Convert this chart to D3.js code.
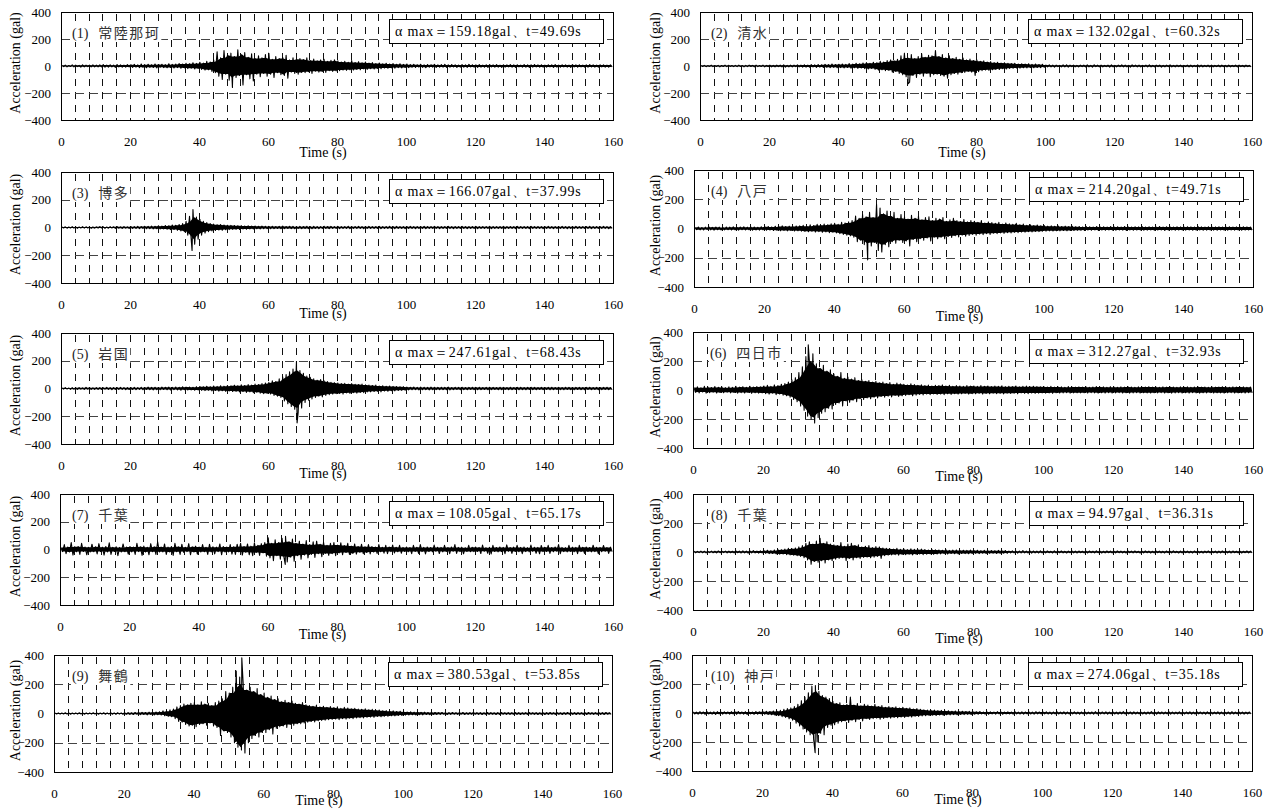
<!DOCTYPE html>
<html><head><meta charset="utf-8">
<script src="https://cdn.jsdelivr.net/npm/d3@7"></script>
<style>
body{margin:0;background:#fff;}
svg{display:block;}
</style></head><body>
<svg id="chart" width="1272" height="809"></svg>
<script>
// Station names, peak accelerations (gal, signed) and the time of each peak (s)
const stations = ["常陸那珂","清水","博多","八戸","岩国","四日市","千葉","千葉","舞鶴","神戸"];
const peakAcc  = [-159.18, -132.02, -166.07, -214.20, -247.61, 312.27, -108.05, 94.97, 380.53, -274.06];
const peakTime = [49.69, 60.32, 37.99, 49.71, 68.43, 32.93, 65.17, 36.31, 53.85, 35.18];
const timeTicks = [0,20,40,60,80,100,120,140,160];
const accTicks = [-400,-200,0,200,400];

// Per-second positive and negative excursions of each record (gal), 0–159 s
const hi1 = [5,7,4,8,6,5,9,6,7,8, 6,8,10,7,9,6,11,8,7,10, 9,12,8,14,10,13,9,15,11,13, 10,16,12,14,18,15,20,17,24,19,
 28,22,35,30,45,105,60,115,80,95, 70,120,85,100,65,90,55,75,60,85, 95,50,70,55,65,80,45,60,50,55, 48,60,40,52,38,45,50,35,42,46,
 38,30,35,28,40,26,32,24,30,22, 25,18,22,16,20,15,18,13,16,12, 14,10,12,9,13,8,11,9,12,8, 10,12,8,11,9,7,10,8,12,9,
 8,10,7,9,11,8,10,7,9,8, 10,8,9,7,10,8,9,11,8,9, 7,9,8,10,7,9,8,7,10,8, 9,7,8,10,8,7,9,8,7,8];
const lo1 = [-5,-6,-4,-7,-5,-8,-6,-5,-7,-6, -7,-6,-9,-8,-6,-10,-7,-9,-8,-7, -10,-8,-12,-9,-13,-10,-11,-14,-9,-12, -13,-11,-15,-12,-17,-14,-19,-16,-22,-18,
 -25,-30,-28,-40,-50,-75,-100,-60,-105,-90, -85,-70,-140,-65,-95,-110,-60,-80,-55,-75, -60,-85,-50,-65,-70,-90,-45,-55,-60,-48, -50,-42,-55,-38,-45,-40,-48,-35,-40,-36,
 -35,-30,-32,-28,-30,-25,-28,-22,-25,-20, -22,-18,-20,-15,-17,-14,-16,-12,-14,-11, -12,-9,-11,-8,-10,-12,-9,-8,-11,-9, -8,-10,-9,-7,-11,-8,-9,-10,-7,-9,
 -10,-8,-9,-11,-7,-9,-8,-10,-8,-7, -9,-10,-7,-8,-9,-11,-8,-7,-9,-8, -8,-7,-10,-8,-9,-7,-8,-10,-7,-9, -7,-8,-9,-7,-8,-9,-7,-8,-9,-7];

const hi2 = [4,5,3,6,4,5,4,6,5,4, 5,6,4,5,7,5,6,4,6,5, 6,5,7,6,8,5,7,6,8,7, 9,7,10,8,11,9,12,10,14,11,
 13,15,12,18,14,20,16,22,25,20, 28,24,35,30,40,45,38,50,75,95, 60,85,55,70,90,65,80,75,115,70, 85,60,75,55,65,50,58,45,52,40,
 45,35,38,30,32,25,28,22,24,20, 18,20,15,17,14,16,12,14,11,13, 7,8,6,7,5,8,9,6,7,5, 6,7,8,5,9,6,7,5,6,8,
 5,7,9,6,5,8,6,7,5,6, 8,5,6,7,5,6,8,5,7,6, 5,6,7,5,8,6,5,7,6,5, 6,7,5,6,5,7,6,5,6,5];
const lo2 = [-4,-5,-3,-5,-4,-6,-4,-5,-3,-5, -5,-4,-6,-5,-4,-6,-5,-4,-6,-5, -6,-7,-5,-6,-8,-6,-7,-5,-7,-8, -8,-9,-7,-10,-8,-11,-9,-12,-10,-13,
 -12,-14,-11,-16,-13,-18,-15,-20,-22,-18, -25,-30,-28,-35,-32,-45,-40,-55,-65,-80, -120,-70,-85,-60,-75,-55,-80,-65,-60,-70, -75,-90,-65,-55,-60,-50,-48,-40,-45,-70,
 -42,-35,-30,-32,-28,-25,-26,-20,-22,-18, -17,-15,-16,-13,-14,-12,-13,-11,-12,-10, -7,-6,-8,-5,-7,-6,-8,-5,-6,-7, -5,-7,-6,-8,-5,-6,-7,-5,-8,-6,
 -6,-5,-7,-6,-8,-5,-6,-7,-5,-6, -7,-6,-5,-8,-6,-5,-7,-6,-5,-7, -5,-7,-6,-5,-6,-7,-5,-6,-7,-5, -6,-5,-7,-6,-5,-6,-5,-7,-5,-6];

const hi3 = [4,5,4,6,5,4,6,5,4,5, 5,6,5,4,6,5,7,5,6,5, 7,6,8,7,9,8,10,9,12,10, 14,12,18,16,22,28,45,80,130,75,
 60,45,35,28,25,20,22,18,16,15, 14,12,13,11,12,10,11,9,10,9, 8,9,7,8,10,7,9,8,6,8, 7,9,6,8,7,6,9,7,8,6,
 8,6,7,9,6,7,8,6,7,8, 6,7,8,6,7,9,6,8,7,6, 7,8,6,7,6,8,7,6,8,7, 6,7,8,6,7,6,8,7,6,7,
 8,6,7,6,8,7,6,7,8,6, 7,6,8,7,6,7,8,6,7,6, 6,8,7,6,7,8,6,7,6,8, 7,6,7,8,6,7,6,8,7,6];
const lo3 = [-4,-5,-4,-5,-6,-4,-5,-4,-6,-5, -5,-4,-6,-5,-4,-6,-5,-7,-5,-6, -6,-7,-8,-6,-9,-8,-10,-9,-11,-10, -12,-15,-14,-20,-25,-30,-55,-90,-120,-85,
 -55,-40,-30,-25,-22,-18,-20,-16,-15,-13, -12,-14,-11,-12,-10,-11,-9,-10,-9,-8, -9,-8,-7,-9,-8,-7,-8,-9,-7,-8, -7,-8,-9,-7,-8,-6,-7,-8,-7,-6,
 -8,-7,-6,-8,-7,-6,-7,-8,-6,-7, -7,-6,-8,-7,-6,-7,-8,-6,-7,-8, -6,-7,-8,-6,-7,-8,-6,-7,-6,-8, -7,-6,-7,-8,-6,-7,-6,-8,-7,-6,
 -8,-7,-6,-7,-8,-6,-7,-6,-8,-7, -6,-8,-7,-6,-7,-8,-6,-7,-6,-8, -7,-6,-8,-7,-6,-7,-8,-6,-7,-6, -6,-7,-6,-8,-7,-6,-7,-6,-8,-7];

const hi4 = [8,10,7,9,11,8,10,9,7,10, 9,11,8,10,12,9,11,10,8,12, 12,14,11,15,13,18,14,16,13,17, 18,22,16,25,20,28,22,30,25,32,
 35,28,42,38,45,55,85,70,95,80, 110,75,165,140,100,120,85,110,70,95, 80,65,90,70,85,60,75,80,55,70, 65,75,50,60,70,55,48,62,45,55,
 50,42,55,38,45,40,35,42,30,38, 32,28,35,25,30,22,26,20,24,18, 20,16,18,15,17,14,16,13,15,12, 14,11,13,12,10,13,11,12,10,14,
 11,12,10,13,11,10,12,11,13,10, 12,10,11,13,10,12,11,10,12,11, 10,12,11,10,13,11,10,12,10,11, 12,10,11,12,10,11,10,12,11,10];
const lo4 = [-8,-9,-10,-7,-9,-11,-8,-10,-9,-8, -10,-9,-11,-8,-10,-9,-12,-10,-11,-9, -12,-11,-14,-12,-15,-13,-16,-14,-17,-15, -18,-20,-22,-19,-24,-21,-26,-23,-28,-25,
 -30,-35,-40,-45,-50,-60,-90,-80,-110,-100, -120,-95,-150,-160,-110,-125,-90,-100,-80,-95, -85,-120,-75,-90,-70,-80,-65,-85,-60,-70, -60,-70,-55,-62,-50,-58,-45,-52,-48,-40,
 -45,-38,-42,-35,-40,-32,-36,-30,-33,-28, -30,-26,-28,-24,-25,-22,-23,-20,-21,-18, -18,-16,-17,-15,-16,-14,-15,-13,-14,-12, -12,-13,-11,-12,-10,-13,-11,-12,-10,-11,
 -12,-10,-11,-13,-10,-12,-11,-10,-12,-11, -10,-12,-11,-10,-13,-11,-10,-12,-11,-10, -11,-10,-12,-11,-10,-12,-11,-10,-11,-12, -10,-11,-12,-10,-11,-10,-12,-11,-10,-11];

const hi5 = [5,6,4,7,5,6,5,8,6,5, 6,7,5,8,6,7,6,8,7,6, 7,8,6,9,7,10,8,9,7,10, 9,10,8,11,9,12,10,11,9,13,
 14,12,16,13,18,15,20,17,22,19, 24,20,26,22,28,25,32,28,35,40, 45,55,50,70,85,100,120,140,195,130, 110,90,80,70,60,65,55,50,45,42,
 40,35,38,32,35,30,28,32,26,25, 22,25,18,20,16,18,15,14,12,13, 10,9,11,8,10,9,8,10,9,8, 9,8,10,7,9,8,9,7,8,9,
 8,9,7,8,9,8,7,9,8,7, 9,7,8,9,7,8,9,8,7,8, 7,8,9,7,8,7,9,8,7,8, 8,7,8,9,7,8,7,8,9,7];
const lo5 = [-5,-4,-6,-5,-7,-5,-6,-5,-7,-6, -6,-7,-5,-6,-8,-6,-7,-6,-8,-7, -7,-8,-6,-9,-7,-8,-10,-8,-9,-7, -9,-11,-8,-10,-12,-9,-11,-10,-12,-11,
 -13,-15,-12,-17,-14,-19,-16,-21,-18,-22, -20,-25,-22,-28,-24,-30,-27,-34,-38,-35, -40,-50,-55,-65,-90,-110,-130,-150,-170,-140, -100,-85,-75,-65,-55,-60,-50,-45,-40,-38,
 -36,-40,-32,-35,-30,-33,-28,-30,-25,-24, -22,-20,-24,-18,-20,-16,-17,-14,-13,-12, -10,-9,-8,-10,-9,-8,-10,-9,-8,-9, -8,-9,-10,-8,-7,-9,-8,-9,-7,-8,
 -9,-8,-7,-9,-8,-7,-9,-8,-7,-9, -8,-7,-9,-8,-9,-7,-8,-9,-7,-8, -7,-9,-8,-7,-8,-9,-7,-8,-9,-7, -8,-9,-7,-8,-7,-9,-8,-7,-8,-9];

const hi6 = [18,22,15,25,20,17,24,19,21,16, 22,18,25,20,23,19,26,21,24,22, 28,32,25,35,30,40,45,55,70,85, 120,160,230,200,250,180,150,170,130,140,
 110,95,120,80,90,75,85,65,70,60, 65,55,60,50,55,45,52,40,48,42, 40,35,42,38,32,36,30,34,28,32, 30,35,28,32,26,30,28,25,30,27,
 28,25,30,26,28,24,27,25,29,23, 26,24,28,22,25,27,23,26,24,22, 24,21,25,20,23,22,19,24,21,20, 22,20,23,19,21,24,20,22,19,23,
 21,19,22,20,24,21,19,22,20,21, 23,20,21,19,22,20,23,21,19,22, 20,22,19,21,23,20,21,19,22,20, 21,23,20,19,22,21,20,22,19,21];
const lo6 = [-16,-20,-14,-22,-18,-15,-21,-17,-19,-15, -20,-17,-22,-18,-21,-17,-23,-19,-22,-20, -25,-28,-22,-32,-28,-36,-40,-50,-65,-80, -110,-140,-180,-200,-228,-190,-160,-150,-125,-130,
 -100,-90,-110,-75,-85,-70,-80,-60,-65,-55, -60,-50,-55,-45,-50,-42,-48,-38,-44,-40, -38,-33,-40,-35,-30,-34,-28,-32,-27,-30, -28,-32,-26,-30,-25,-28,-26,-24,-28,-25,
 -26,-23,-28,-24,-26,-22,-25,-23,-27,-22, -24,-22,-26,-20,-23,-25,-21,-24,-22,-20, -22,-20,-23,-19,-21,-20,-18,-22,-20,-19, -20,-19,-21,-18,-20,-22,-19,-21,-18,-21,
 -20,-18,-21,-19,-22,-20,-18,-21,-19,-20, -21,-19,-20,-18,-21,-19,-22,-20,-18,-21, -19,-21,-18,-20,-22,-19,-20,-18,-21,-19, -20,-22,-19,-18,-21,-20,-19,-21,-18,-20];

const hi7 = [15,35,18,50,20,22,45,18,16,38, 20,42,17,22,48,16,20,15,40,18, 22,18,45,20,25,16,42,20,55,18, 40,17,22,45,19,38,16,42,20,24,
 18,35,16,38,20,17,40,22,18,35, 20,38,45,22,40,24,48,30,42,50, 85,45,70,50,80,95,55,75,45,60, 40,65,35,55,60,38,52,30,45,50,
 32,48,28,45,25,40,22,38,20,35, 22,18,35,16,30,18,32,16,30,15, 18,14,30,16,35,15,18,14,32,16, 15,30,14,18,35,15,17,13,30,16,
 18,15,32,13,16,30,14,18,15,33, 14,17,30,15,18,13,32,16,15,29, 16,30,14,18,35,15,13,30,17,15, 30,16,18,14,31,16,15,29,14,17];
const lo7 = [-15,-30,-18,-40,-16,-35,-14,-38,-18,-16, -32,-15,-40,-17,-35,-14,-45,-18,-16,-33, -17,-35,-15,-42,-18,-38,-16,-35,-18,-17, -35,-18,-42,-16,-36,-20,-15,-38,-18,-34,
 -18,-16,-35,-17,-32,-15,-38,-18,-17,-33, -35,-18,-40,-20,-38,-45,-22,-42,-25,-48, -60,-80,-45,-70,-50,-90,-55,-85,-45,-70, -40,-60,-35,-58,-30,-52,-28,-42,-30,-45,
 -25,-38,-22,-35,-28,-33,-20,-30,-22,-32, -18,-28,-16,-26,-30,-15,-25,-16,-27,-14, -16,-30,-14,-28,-15,-32,-14,-17,-13,-29, -17,-14,-30,-13,-28,-15,-31,-14,-16,-15,
 -14,-29,-13,-27,-32,-14,-17,-15,-30,-13, -28,-14,-16,-30,-15,-17,-13,-27,-31,-15, -14,-28,-16,-13,-30,-15,-17,-14,-16,-30, -15,-28,-14,-17,-15,-30,-16,-13,-28,-15];

const hi8 = [5,4,6,5,4,6,5,7,5,6, 6,5,7,6,8,6,7,9,7,8, 10,12,9,14,18,15,20,25,22,28, 35,45,60,70,55,75,80,60,70,55,
 50,45,65,40,55,60,45,50,35,40, 45,30,38,35,28,25,22,20,25,18, 20,16,22,18,15,20,17,14,18,15, 14,12,15,11,13,14,10,12,11,13,
 10,12,9,11,8,10,9,11,8,10, 7,8,6,7,9,6,8,7,6,8, 6,7,5,8,6,7,5,6,8,6, 7,5,6,7,5,8,6,5,7,6,
 5,7,6,5,8,6,7,5,6,7, 6,5,7,6,5,7,6,8,5,6, 7,6,5,7,6,5,6,7,5,6, 6,7,5,6,7,5,6,5,7,6];
const lo8 = [-5,-4,-5,-6,-4,-5,-6,-5,-4,-6, -5,-6,-5,-7,-6,-8,-6,-7,-8,-7, -9,-11,-10,-13,-15,-14,-18,-20,-22,-25, -30,-40,-55,-85,-65,-70,-60,-75,-55,-60,
 -50,-45,-40,-60,-45,-55,-40,-45,-38,-35, -40,-35,-30,-45,-25,-22,-20,-18,-22,-16, -18,-15,-20,-16,-14,-18,-15,-13,-16,-14, -13,-11,-14,-10,-12,-13,-10,-11,-12,-10,
 -9,-11,-8,-10,-9,-8,-10,-9,-8,-9, -7,-6,-8,-7,-6,-7,-8,-6,-7,-6, -6,-5,-7,-6,-5,-6,-7,-5,-6,-7, -5,-6,-7,-5,-6,-5,-7,-6,-5,-6,
 -6,-5,-6,-7,-5,-6,-5,-7,-6,-5, -7,-6,-5,-6,-7,-5,-6,-5,-7,-6, -5,-6,-7,-5,-6,-7,-5,-6,-5,-7, -6,-5,-6,-7,-5,-6,-7,-5,-6,-5];

const hi9 = [3,4,3,5,4,3,4,5,3,4, 4,5,4,3,5,4,6,4,5,4, 5,6,5,7,6,8,7,9,8,10, 12,18,15,25,30,45,55,65,60,70,
 75,60,80,65,70,55,75,85,100,150, 140,180,290,250,200,160,180,150,170,130, 140,110,120,95,100,80,90,75,85,70, 65,75,60,55,50,58,45,50,42,48,
 40,45,35,42,38,32,35,30,28,32, 25,28,22,24,18,20,16,18,14,15, 12,10,11,9,10,8,9,7,8,7, 6,7,5,6,7,5,6,7,5,6,
 7,5,6,5,7,6,5,6,7,5, 6,5,7,6,5,6,7,5,6,5, 5,6,7,5,6,5,6,7,5,6, 6,5,6,7,5,6,5,6,7,5];
const lo9 = [-3,-4,-3,-4,-5,-3,-4,-3,-5,-4, -4,-3,-5,-4,-5,-4,-5,-6,-4,-5, -5,-6,-7,-5,-8,-6,-9,-7,-10,-8, -10,-15,-20,-22,-35,-55,-60,-75,-85,-80,
 -90,-75,-70,-80,-65,-85,-95,-150,-120,-130, -160,-200,-230,-250,-270,-200,-170,-150,-160,-130, -130,-110,-140,-100,-90,-85,-95,-75,-80,-70, -70,-65,-60,-55,-58,-50,-48,-45,-42,-40,
 -38,-42,-35,-38,-32,-35,-30,-28,-30,-26, -24,-26,-20,-22,-18,-19,-15,-16,-13,-14, -11,-10,-9,-10,-8,-9,-7,-8,-7,-6, -6,-5,-7,-6,-5,-6,-5,-7,-6,-5,
 -5,-6,-7,-5,-6,-5,-7,-6,-5,-6, -6,-5,-6,-7,-5,-6,-5,-6,-7,-5, -7,-6,-5,-6,-5,-7,-6,-5,-6,-7, -5,-6,-7,-5,-6,-5,-6,-7,-5,-6];

const hi10 = [8,6,9,7,10,6,8,9,7,8, 7,9,8,10,7,9,8,7,10,8, 9,11,10,14,12,18,25,30,35,45, 60,85,110,140,185,190,150,120,110,100,
 80,65,70,55,60,110,55,65,50,60, 55,48,60,45,52,40,45,38,42,35, 40,32,35,28,30,25,22,20,18,20, 16,18,14,15,12,14,11,12,10,11,
 9,8,10,7,9,8,7,9,8,7, 8,7,9,6,8,7,8,6,9,7, 7,8,6,7,9,6,8,7,6,8, 6,7,8,6,7,9,6,7,8,6,
 8,6,7,9,6,7,8,6,7,6, 7,9,6,8,7,6,9,7,6,8, 6,7,8,6,9,7,6,8,7,6, 8,7,6,7,9,6,8,7,6,7];
const lo10 = [-7,-8,-6,-9,-7,-8,-10,-7,-8,-6, -8,-7,-9,-6,-8,-10,-7,-9,-8,-7, -8,-10,-12,-15,-18,-25,-30,-40,-50,-70, -90,-110,-130,-150,-180,-200,-140,-150,-100,-85,
 -80,-70,-60,-55,-65,-50,-60,-45,-55,-40, -45,-40,-35,-42,-38,-32,-35,-30,-33,-28, -30,-25,-28,-22,-24,-20,-18,-16,-15,-17, -14,-15,-12,-13,-11,-12,-10,-11,-9,-10,
 -8,-9,-7,-8,-9,-7,-8,-6,-9,-7, -7,-8,-6,-7,-8,-6,-7,-8,-6,-7, -6,-7,-8,-6,-7,-6,-8,-7,-6,-7, -8,-6,-7,-6,-8,-7,-6,-7,-8,-6,
 -7,-8,-6,-7,-6,-8,-7,-6,-7,-8, -6,-7,-8,-6,-7,-6,-8,-7,-6,-7, -7,-6,-8,-7,-6,-7,-8,-6,-7,-6, -8,-7,-6,-8,-7,-6,-7,-8,-6,-7];

const highs = [hi1,hi2,hi3,hi4,hi5,hi6,hi7,hi8,hi9,hi10];
const lows  = [lo1,lo2,lo3,lo4,lo5,lo6,lo7,lo8,lo9,lo10];

// Page layout of the ten plot frames (pixels)
const frames = [
  {x0:61,  x1:613,  y0:12,  y1:120, lab:11, ylab:15,  tl:37},
  {x0:700, x1:1252, y0:12,  y1:120, lab:11, ylab:655, tl:37},
  {x0:61,  x1:613,  y0:172, y1:283, lab:11, ylab:15,  tl:35},
  {x0:694, x1:1253, y0:170, y1:287, lab:17, ylab:655, tl:34},
  {x0:61,  x1:613,  y0:333, y1:444, lab:11, ylab:15,  tl:34},
  {x0:693, x1:1253, y0:332, y1:448, lab:17, ylab:655, tl:33},
  {x0:60,  x1:613,  y0:494, y1:605, lab:12, ylab:15,  tl:34},
  {x0:693, x1:1253, y0:494, y1:610, lab:18, ylab:655, tl:33},
  {x0:54,  x1:612,  y0:655, y1:772, lab:18, ylab:15,  tl:33},
  {x0:692, x1:1252, y0:655, y1:771, lab:19, ylab:655, tl:33}
];

const serif = "'Liberation Serif','Times New Roman',serif";
const cjk = "'Noto Sans CJK JP','Noto Sans CJK SC',sans-serif";
const svg = d3.select("#chart");
const defs = svg.append("defs");

frames.forEach((f, k) => {
  const x = d3.scaleLinear().domain([0, 160]).range([f.x0, f.x1]);
  const y = d3.scaleLinear().domain([-400, 400]).range([f.y1, f.y0]);
  const g = svg.append("g").attr("class", "panel");
  const hi = highs[k], lo = lows[k];

  defs.append("clipPath").attr("id", "clip" + k)
    .append("rect").attr("x", f.x0).attr("y", f.y0)
    .attr("width", f.x1 - f.x0).attr("height", f.y1 - f.y0);

  // vertical dashed grid every 4 s
  g.append("g").selectAll("line").data(d3.range(4, 160, 4)).join("line")
    .attr("x1", d => Math.round(x(d)) + 0.5).attr("x2", d => Math.round(x(d)) + 0.5)
    .attr("y1", f.y0).attr("y2", f.y1)
    .attr("stroke", "#111").attr("stroke-width", 1)
    .attr("stroke-dasharray", "7,6").attr("stroke-dashoffset", -2);

  // horizontal dashed grid at ±200 gal
  g.append("g").selectAll("line").data([200, -200]).join("line")
    .attr("x1", f.x0).attr("x2", f.x1)
    .attr("y1", d => Math.round(y(d)) + 0.5).attr("y2", d => Math.round(y(d)) + 0.5)
    .attr("stroke", "#444").attr("stroke-width", 1)
    .attr("stroke-dasharray", "9,5");

  const wave = g.append("g").attr("clip-path", "url(#clip" + k + ")");

  // dense core: the level every neighbouring second reaches on both sides
  const core = hi.map((v, i) => ({
    t: i + 0.5,
    top: d3.min(hi.slice(Math.max(0, i - 1), i + 2)),
    bot: d3.max(lo.slice(Math.max(0, i - 1), i + 2))
  }));
  wave.append("path").datum(core)
    .attr("fill", "#000").attr("stroke", "none")
    .attr("d", d3.area().x(d => x(d.t)).y0(d => y(d.bot)).y1(d => y(d.top)));

  // oscillation trace through each second's extremes, including the recorded peak
  const pts = [];
  hi.forEach((v, i) => { pts.push([i + 0.25, v]); pts.push([i + 0.75, lo[i]]); });
  pts.push([peakTime[k], peakAcc[k]]);
  pts.sort((a, b) => a[0] - b[0]);
  wave.append("path").datum(pts)
    .attr("fill", "none").attr("stroke", "#000").attr("stroke-width", 1.1)
    .attr("stroke-linejoin", "round")
    .attr("d", d3.line().x(d => x(d[0])).y(d => y(d[1])));

  // station label on a white patch
  const lg = g.append("g");
  const lt = lg.append("text").attr("x", f.x0 + f.lab).attr("y", f.y0 + 26)
    .attr("font-size", 14).attr("fill", "#222");
  lt.append("tspan").attr("font-family", serif).text("(" + (k + 1) + ")");
  lt.append("tspan").attr("dx", 10).attr("font-family", cjk).attr("fill", "#333")
    .attr("letter-spacing", 1.5).text(stations[k]);
  const bb = lt.node().getBBox();
  lg.insert("rect", "text").attr("x", bb.x - 1).attr("y", bb.y)
    .attr("width", bb.width + 2).attr("height", bb.height).attr("fill", "#fff");

  // peak annotation box
  const bw = 214, bh = 24, bx = f.x1 - 10 - bw, by = f.y0 + 7;
  g.append("rect").attr("x", bx + 0.5).attr("y", by + 0.5).attr("width", bw).attr("height", bh)
    .attr("fill", "#fff").attr("stroke", "#000").attr("stroke-width", 1);
  g.append("text").attr("x", bx + 6).attr("y", by + 17)
    .attr("font-family", serif).attr("font-size", 14).attr("letter-spacing", 0.8).attr("fill", "#000")
    .text("α max＝" + Math.abs(peakAcc[k]).toFixed(2) + "gal、t=" + peakTime[k].toFixed(2) + "s");

  // frame
  g.append("rect").attr("x", f.x0 + 0.5).attr("y", f.y0 + 0.5)
    .attr("width", f.x1 - f.x0).attr("height", f.y1 - f.y0)
    .attr("fill", "none").attr("stroke", "#000").attr("stroke-width", 1);

  // axes (labels only)
  const xa = g.append("g").attr("transform", `translate(0,${f.y1 + 17})`)
    .call(d3.axisBottom(x).tickValues(timeTicks).tickSize(0).tickPadding(0).tickFormat(d3.format("d")));
  const ya = g.append("g").attr("transform", `translate(${f.x0},0)`)
    .call(d3.axisLeft(y).tickValues(accTicks).tickSize(0).tickPadding(10).tickFormat(d3.format("d")));
  [xa, ya].forEach(a => {
    a.select(".domain").remove();
    a.selectAll("text").attr("font-family", serif).attr("font-size", 13).attr("fill", "#000");
  });

  g.append("text").attr("x", (f.x0 + f.x1) / 2 - 14).attr("y", f.y1 + f.tl)
    .attr("text-anchor", "middle").attr("font-family", serif).attr("font-size", 14)
    .text("Time (s)");
  g.append("text")
    .attr("transform", `translate(${f.ylab},${(f.y0 + f.y1) / 2 - 3}) rotate(-90)`)
    .attr("text-anchor", "middle").attr("dy", "0.35em")
    .attr("font-family", serif).attr("font-size", 14)
    .text("Acceleration (gal)");
});
</script>
</body></html>
